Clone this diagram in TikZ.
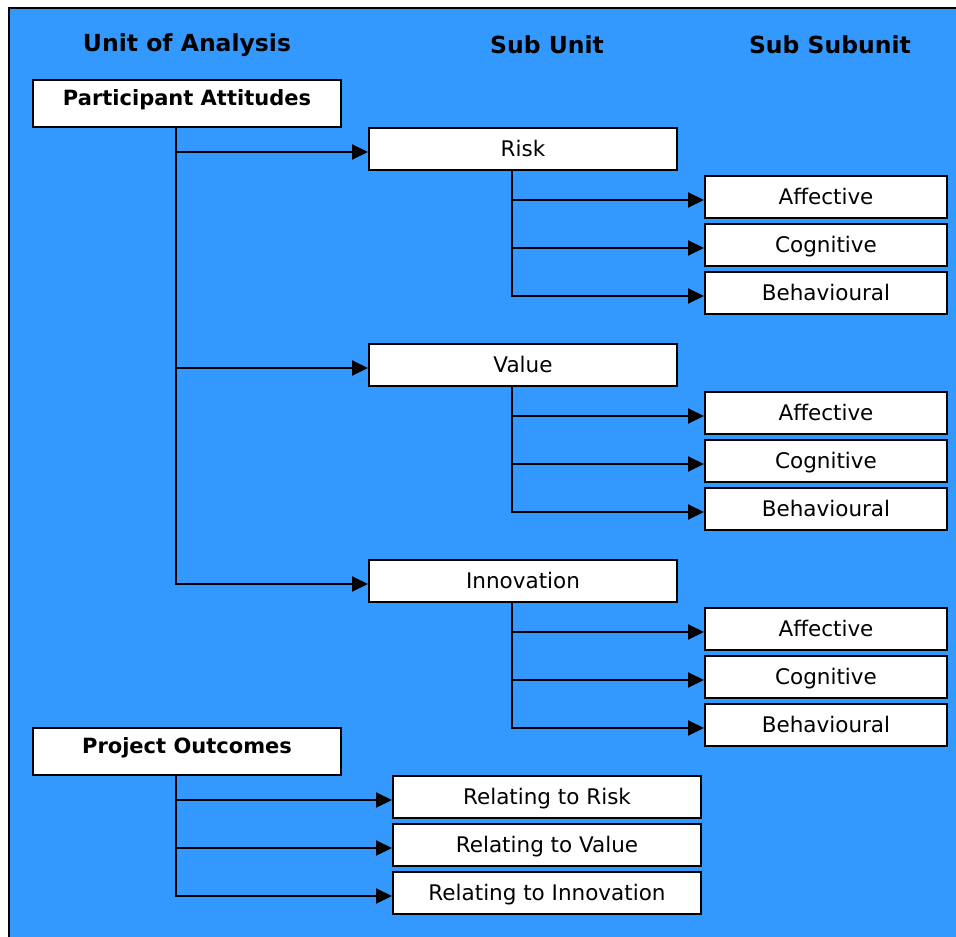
\documentclass[tikz,border=0pt]{standalone}
\usepackage{fontspec}
\setmainfont{DejaVu Sans}
\usetikzlibrary{arrows.meta,positioning}
\definecolor{skyback}{RGB}{51,153,255}

\begin{document}
\begin{tikzpicture}[x=1pt,y=-1pt,
  box/.style={draw,line width=2pt,fill=white,minimum width=308pt,inner sep=0pt,
    text height=28.6pt,text depth=13.4pt,font=\fontsize{21.5}{24}\selectfont},
  subbox/.style={box,minimum width=242pt},
  topbox/.style={box,text height=25pt,text depth=22pt,font=\fontsize{21}{24}\selectfont\bfseries},
  head/.style={font=\fontsize{23.5}{27}\selectfont\bfseries},
  link/.style={line width=2pt,-{Triangle[length=16pt,width=15pt]}}]
\clip (0,0) rectangle (956,937);
\fill [white] (0,0) rectangle (956,937);
\draw [line width=2pt, fill=skyback] (9,8) rectangle (990,990);

\def \off{144pt}

% column heads
\node [head] (hunit) at (187,45) {Unit of Analysis};
\node [head] (hsub) at (547,45) {Sub Unit};
\node [head] (hsubsub) at (830,45) {Sub Subunit};

% participant attitudes
\node [topbox] (pa) at (187,103.5) {Participant Attitudes};
\foreach \u/\y/\t in {risk/149/Risk, value/365/Value, innov/581/Innovation} {
  \node [box] (\u) at (523,\y) {\t};
  \draw [link] ([xshift=\off]pa.south west) |- ([yshift=-3pt]\u.west);
  \foreach \s/\dy/\st in {aff/48/Affective, cog/96/Cognitive, beh/144/Behavioural} {
    \node [subbox] (\u-\s) at (826,\y+\dy) {\st};
    \draw [link] ([xshift=\off]\u.south west) |- ([yshift=-3pt]\u-\s.west);
  }
}

% project outcomes
\node [topbox] (po) at (187,751.5) {Project Outcomes};
\foreach \r/\y/\t in {rrisk/797/Relating to Risk, rvalue/845/Relating to Value, rinnov/893/Relating to Innovation} {
  \node [box] (\r) at (547,\y) {\t};
  \draw [link] ([xshift=\off]po.south west) |- ([yshift=-3pt]\r.west);
}
\end{tikzpicture}
\end{document}
